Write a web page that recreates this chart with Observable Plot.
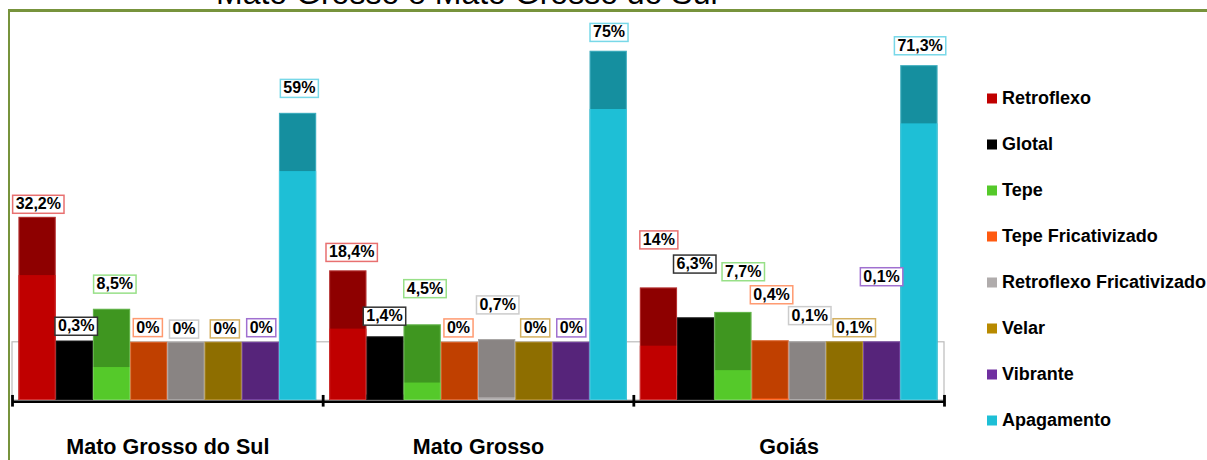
<!DOCTYPE html>
<html>
<head>
<meta charset="utf-8">
<script src="https://cdn.jsdelivr.net/npm/d3@7"></script>
<script src="https://cdn.jsdelivr.net/npm/@observablehq/plot@0.6"></script>
<style>
html, body { margin: 0; padding: 0; background: #fff; width: 1207px; height: 460px; overflow: hidden; }
#wrap { position: relative; width: 1207px; height: 460px; overflow: hidden; font-family: "Liberation Sans", Arial, sans-serif; }
#title { position: absolute; left: 216px; top: -23px; font-size: 32px; line-height: 32px; white-space: nowrap; color: #000; }
#frameTop { position: absolute; left: 8px; top: 9px; width: 1199px; height: 2.5px; background: #77933C; }
#frameLeft { position: absolute; left: 8px; top: 9px; width: 2px; height: 451px; background: #77933C; }
#chart { position: absolute; left: 0; top: 0; }
#legend { position: absolute; left: 987px; top: 0; }
.item { position: absolute; left: 0; display: flex; align-items: center; white-space: nowrap; font-weight: bold; font-size: 18px; color: #000; transform: translateY(-50%); }
.sw { width: 10px; height: 10px; margin-right: 5px; flex: none; }
</style>
</head>
<body>
<div id="wrap">
  <div id="title">Mato Grosso e Mato Grosso do Sul</div>
  <div id="frameTop"></div>
  <div id="frameLeft"></div>
  <div id="chart"></div>
  <div id="legend"></div>
</div>
<script>
// ---- data ----
const states = ["Mato Grosso do Sul", "Mato Grosso", "Goiás"];
const series = ["Retroflexo", "Glotal", "Tepe", "Tepe Fricativizado", "Retroflexo Fricativizado", "Velar", "Vibrante", "Apagamento"];
const valuesMS = [32.2, 0.3, 8.5, 0, 0, 0, 0, 59];
const valuesMG = [18.4, 1.4, 4.5, 0, 0.7, 0, 0, 75];
const valuesGO = [14, 6.3, 7.7, 0.4, 0.1, 0.1, 0.1, 71.3];

// ---- styles ----
const frontColors = ["#C00000", "#000000", "#55C92A", "#FF5A10", "#B0ACAC", "#B88A00", "#7030A0", "#1EBFD6"];
const topColors   = ["#8E0000", "#000000", "#3F9620", "#C04000", "#898483", "#8E6E00", "#56247A", "#158F9F"];
const borderColors = ["#E87070", "#333333", "#98E088", "#FF9A70", "#CCCCCC", "#D4B060", "#A070D0", "#78D8E8"];
const depth = 15;        // 3D top-face depth, in value units
const groupPad = 0.175;  // outer padding of each group, in bar widths
// label nudges (pixels) relative to the top-centre of each bar
const labelDx = [[0.7, 1.4, 2.8, -1.4, -2.4, 1.2, 0.4, 1.3], [3.4, -1, 2.3, -1.4, 0.6, 0.9, -0.2, 0.3], [-0.1, -1.4, 9.9, 1, 2, 9.3, -0.6, 0.7]];
const labelDy = [[-13.2, -15, -25.3, -14.8, -13.3, -13.5, -14.7, -25.1], [-18.6, -20.8, -36.3, -14.5, -34.8, -14.5, -14.5, -19], [-48.2, -53.9, -40.8, -46.1, -26.4, -14.3, -65.3, -20]];

const values = [valuesMS, valuesMG, valuesGO];
const rows = states.flatMap((state, g) => series.map((name, i) => ({g, i, state, series: name, v: values[g][i]})));
const slots = series.length + 2 * groupPad;
const X1 = d => d.g + (groupPad + d.i) / slots;
const X2 = d => d.g + (groupPad + d.i + 1) / slots;
const XC = d => d.g + (groupPad + d.i + 0.5) / slots;
const fmt = v => String(v).replace(".", ",") + "%";

const plot = Plot.plot({
  width: 1207,
  height: 460,
  marginLeft: 12, marginRight: 263, marginTop: 30, marginBottom: 60,
  style: {fontFamily: "'Liberation Sans', Arial, sans-serif", background: "transparent", overflow: "visible"},
  x: {type: "linear", domain: [0, states.length], range: [12, 944], axis: null},
  y: {type: "linear", domain: [-depth, 80], range: [400, 31.4], axis: null},
  marks: [
    // floor
    Plot.rect([0], {x1: 0, x2: states.length, y1: -depth, y2: 0, fill: "white", stroke: "#BBBBBB", strokeWidth: 1.2}),
    // whole bar in top-face colour
    Plot.rect(rows, {x1: X1, x2: X2, y1: -depth, y2: d => d.v, fill: d => topColors[d.i]}),
    // front faces over it
    Plot.rect(rows.filter(d => d.v > 0), {x1: X1, x2: X2, y1: -depth, y2: d => d.v - depth, fill: d => frontColors[d.i]}),
    // bar outline
    Plot.rect(rows, {x1: X1, x2: X2, y1: -depth, y2: d => d.v, fill: "none", stroke: d => borderColors[d.i], strokeOpacity: 0.45, strokeWidth: 1, inset: 0.5}),
    // axis line + group ticks
    Plot.ruleY([-depth], {x1: 0, x2: states.length, stroke: "#000", strokeWidth: 2.6, dy: 1.2}),
    Plot.ruleX(d3.range(states.length + 1), {y1: -13.7, y2: -16.7, stroke: "#000", strokeWidth: 2.8}),
    // group names
    Plot.text(states, {x: (d, i) => i + 0.5, y: -depth, dy: 47, text: d => d, fontSize: 21.5, fontWeight: "bold", fill: "#000"}),
    // value labels
    Plot.text(rows, {x: XC, y: d => d.v, text: d => fmt(d.v), fontSize: 16, fontWeight: "bold", fill: "#000"})
  ]
});
document.getElementById("chart").appendChild(plot);

// boxed value labels
d3.select(plot).selectAll("text").filter(function () { return /%$/.test(this.textContent); }).each(function (_, j) {
  const g = Math.floor(j / series.length), i = j % series.length;
  const bb = this.getBBox();
  const tr = this.getAttribute("transform");
  const parent = this.parentNode;
  const wrap = document.createElementNS("http://www.w3.org/2000/svg", "g");
  wrap.setAttribute("transform", `translate(${labelDx[g][i]},${labelDy[g][i]})`);
  parent.insertBefore(wrap, this);
  const r = document.createElementNS("http://www.w3.org/2000/svg", "rect");
  r.setAttribute("x", bb.x - 3);
  r.setAttribute("y", bb.y);
  r.setAttribute("width", bb.width + 6);
  r.setAttribute("height", bb.height + 1);
  r.setAttribute("fill", "white");
  r.setAttribute("stroke", borderColors[i]);
  r.setAttribute("stroke-width", 1.5);
  if (tr) r.setAttribute("transform", tr);
  wrap.appendChild(r);
  wrap.appendChild(this);
});

// legend
const legend = document.getElementById("legend");
series.forEach((name, i) => {
  const item = document.createElement("div");
  item.className = "item";
  item.style.top = (98 + i * 46) + "px";
  const sw = document.createElement("div");
  sw.className = "sw";
  sw.style.background = frontColors[i];
  item.appendChild(sw);
  item.appendChild(document.createTextNode(name));
  legend.appendChild(item);
});
</script>
</body>
</html>
